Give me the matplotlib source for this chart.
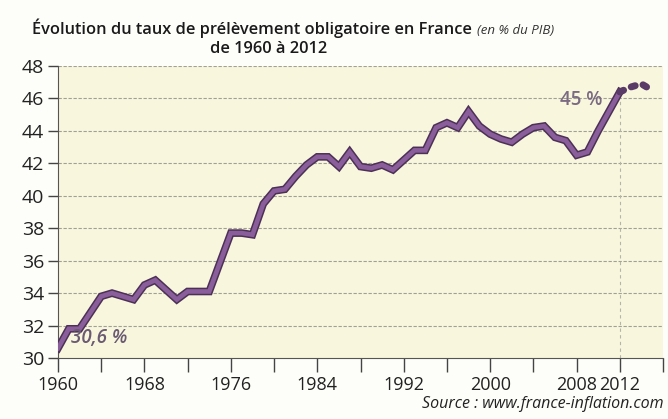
import matplotlib
matplotlib.use("Agg")
import matplotlib.pyplot as plt
import matplotlib.patheffects as pe

# taux de prélèvement obligatoire (% du PIB)
years = list(range(1960, 2013))
values = [30.6, 31.8, 31.8, 32.8, 33.8, 34.0, 33.8, 33.6, 34.5, 34.8,
          34.2, 33.6, 34.1, 34.1, 34.1, 35.9, 37.7, 37.7, 37.6, 39.5,
          40.3, 40.4, 41.2, 41.9, 42.4, 42.4, 41.8, 42.7, 41.8, 41.7,
          41.9, 41.6, 42.2, 42.8, 42.8, 44.2, 44.5, 44.2, 45.2, 44.3,
          43.8, 43.5, 43.3, 43.8, 44.2, 44.3, 43.6, 43.4, 42.5, 42.7,
          44.0, 45.2, 46.4]
# prolongement en pointillés
proj_years = [2012, 2013, 2014, 2015]
proj_values = [46.4, 46.7, 46.9, 46.5]

xticks = list(range(1960, 2017, 4))
xlabels = ["1960", "", "1968", "", "1976", "", "1984", "", "1992", "",
           "2000", "", "2008", "2012", ""]
yticks = list(range(30, 49, 2))

plt.rcParams['font.family'] = ['Open Sans', 'DejaVu Sans']

fig = plt.figure(figsize=(6.68, 4.19), dpi=100)
fig.patch.set_facecolor('#fdfdf9')
ax = fig.add_axes([58 / 668, 61 / 419, (663 - 58) / 668, (358 - 66) / 419])
ax.set_facecolor('#f8f7dd')

ax.set_xlim(1960, 2016)
ax.set_ylim(30, 48)

for y in yticks[1:]:
    ax.axhline(y, color='#a0a096', lw=0.8, ls=(0, (3, 1.5)), zorder=1)

# ligne verticale 2012
ax.plot([2012, 2012], [30, 46.4], color='#b5b5aa', lw=0.8, ls=(0, (3, 3)), zorder=1)

line_fx = [pe.Stroke(linewidth=5.5, foreground='#4d3056'), pe.Normal()]
ax.plot(years, values, color='#8a5e9a', lw=3.3, solid_joinstyle='miter',
        path_effects=line_fx, zorder=3)
ax.plot(proj_years, proj_values, color='#5a3a66', lw=5, ls=(0, (0.6, 1.2)),
        dash_capstyle='round', zorder=3)

ax.set_xticks(xticks)
ax.set_xticklabels(xlabels)
ax.set_yticks(yticks)
ax.tick_params(axis='both', colors='#444444', length=7, width=1, direction='out')
ax.tick_params(axis='x', labelsize=13, length=10, pad=3, labelcolor='#222222')
ax.tick_params(axis='y', labelsize=14, pad=3, labelcolor='#222222')

for s in ['top', 'right']:
    ax.spines[s].set_visible(False)
ax.spines['left'].set_color('#555555')
ax.spines['bottom'].set_color('#555555')

ax.text(1961.2, 30.95, "30,6 %", fontsize=13.5, style='italic', fontweight='semibold',
        color='#6a5a72', zorder=4)
ax.text(2010.4, 45.6, "45 %", fontsize=13.5, fontweight='semibold',
        color='#7a6a82', ha='right', zorder=4)

t1 = fig.text(32 / 668, 1 - 34 / 419, "Évolution du taux de prélèvement obligatoire en France",
              fontsize=11.8, fontweight='semibold', color='#1a1a1a', va='baseline')
fig.canvas.draw()
bb = t1.get_window_extent()
fig.text((bb.x1 + 5) / 668, 1 - 34 / 419, "(en % du PIB)", fontsize=9.5, style='italic',
         color='#333333', va='baseline')
fig.text(269 / 668, 1 - 53 / 419, "de 1960 à 2012", fontsize=11.8,
         fontweight='semibold', color='#1a1a1a', ha='center', va='baseline')
fig.text(664 / 668, 1 - 404 / 419, "Source : www.france-inflation.com", fontsize=11.5,
         style='italic', color='#222222', ha='right', va='center')

fig.savefig('out.png', dpi=100, facecolor=fig.get_facecolor())
